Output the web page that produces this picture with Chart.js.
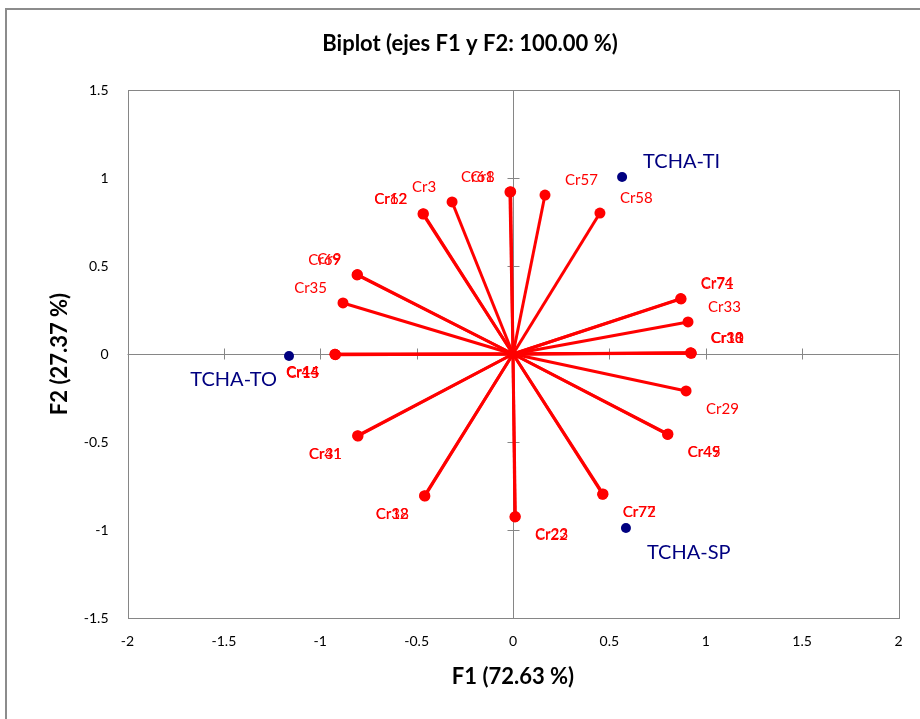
<!DOCTYPE html>
<html>
<head>
<meta charset="utf-8">
<title>Biplot</title>
<script src="https://cdn.jsdelivr.net/npm/chart.js@4.4.0/dist/chart.umd.min.js"></script>
<style>
  html, body { margin: 0; padding: 0; background: #fff; }
  #wrap { position: relative; width: 920px; height: 719px; overflow: hidden; }
  #frame { position: absolute; left: 5px; top: 8px; width: 1000px; height: 1000px;
           border: 2px solid #8c8c8c; box-sizing: border-box; }
  #biplot { position: absolute; left: 0; top: 0; }
</style>
</head>
<body>
<div id="wrap">
  <div id="frame"></div>
  <canvas id="biplot" width="920" height="719"></canvas>
</div>
<script>
// variable loadings (F1, F2)
const varNames = ['Cr61', 'Cr8', 'Cr57', 'Cr58', 'Cr3', 'Cr12', 'Cr62', 'Cr69', 'Cr9', 'Cr35',
                  'Cr14', 'Cr15', 'Cr44', 'Cr71', 'Cr74', 'Cr33', 'Cr10', 'Cr11', 'Cr38',
                  'Cr29', 'Cr45', 'Cr49', 'Cr72', 'Cr77', 'Cr22', 'Cr23', 'Cr18', 'Cr32',
                  'Cr31', 'Cr41'];
const varF1 = [-0.016, -0.012, 0.166, 0.451, -0.316, -0.467, -0.465, -0.809, -0.807, -0.882,
               -0.923, -0.921, -0.924, 0.872, 0.870, 0.908, 0.923, 0.925, 0.921,
               0.898, 0.804, 0.802, 0.467, 0.465, 0.010, 0.012, -0.457, -0.459,
               -0.804, -0.806];
const varF2 = [0.920, 0.922, 0.903, 0.801, 0.864, 0.795, 0.797, 0.449, 0.451, 0.290,
               -0.002, -0.004, -0.001, 0.313, 0.315, 0.182, 0.006, 0.004, 0.007,
               -0.210, -0.455, -0.457, -0.795, -0.797, -0.926, -0.924, -0.807, -0.805,
               -0.466, -0.464];

// observations
const obsNames = ['TCHA-TI', 'TCHA-SP', 'TCHA-TO'];
const obsF1 = [0.566, 0.586, -1.162];
const obsF2 = [1.006, -0.989, -0.011];

const xTicks = [-2, -1.5, -1, -0.5, 0, 0.5, 1, 1.5, 2];
const yTicks = [-1.5, -1, -0.5, 0, 0.5, 1, 1.5];

const RED = '#ff0000';
const NAVY = '#000080';
const AXIS_GREY = '#868686';
const FONT = 'Lato, Carlito, Calibri, sans-serif';

const varSets = varNames.map((name, i) => ({
  label: name,
  data: [{ x: 0, y: 0 }, { x: varF1[i], y: varF2[i] }],
  showLine: true,
  borderColor: RED,
  borderWidth: 3,
  pointRadius: [0, 5.5],
  pointBackgroundColor: RED,
  pointBorderWidth: 0,
  order: 2
}));

const obsSet = {
  label: 'obs',
  data: obsNames.map((n, i) => ({ x: obsF1[i], y: obsF2[i] })),
  showLine: false,
  pointRadius: 5,
  pointBackgroundColor: NAVY,
  pointBorderWidth: 0,
  order: 1
};

// plot frame plus axes through the origin with cross ticks
const zeroAxes = {
  id: 'zeroAxes',
  beforeDatasetsDraw(chart) {
    const { ctx, chartArea: a, scales: { x, y } } = chart;
    const x0 = Math.round(x.getPixelForValue(0)) + 0.5;
    const y0 = Math.round(y.getPixelForValue(0)) + 0.5;
    ctx.save();
    ctx.strokeStyle = AXIS_GREY;
    ctx.lineWidth = 1;
    ctx.strokeRect(Math.round(a.left) + 0.5, Math.round(a.top) + 0.5,
                   Math.round(a.width), Math.round(a.height));
    ctx.beginPath();
    ctx.moveTo(a.left, y0); ctx.lineTo(a.right, y0);
    ctx.moveTo(x0, a.top); ctx.lineTo(x0, a.bottom);
    xTicks.forEach(v => {
      const px = Math.round(x.getPixelForValue(v)) + 0.5;
      ctx.moveTo(px, y0 - 6); ctx.lineTo(px, y0 + 5);
    });
    yTicks.forEach(v => {
      const py = Math.round(y.getPixelForValue(v)) + 0.5;
      ctx.moveTo(x0 - 6, py); ctx.lineTo(x0 + 6, py);
    });
    ctx.stroke();
    ctx.restore();
  }
};

// names beside each variable tip and each observation
const pointNames = {
  id: 'pointNames',
  afterDatasetsDraw(chart) {
    const { ctx } = chart;
    ctx.save();
    ctx.textBaseline = 'middle';
    ctx.font = '15px ' + FONT;
    ctx.fillStyle = RED;
    varNames.forEach((name, i) => {
      const pt = chart.getDatasetMeta(i).data[1];
      const right = varF1[i] >= 0;
      ctx.textAlign = right ? 'left' : 'right';
      ctx.fillText(name, pt.x + (right ? 20 : -16), pt.y + (varF2[i] >= 0 ? -15 : 18));
    });
    ctx.font = '20px ' + FONT;
    ctx.fillStyle = NAVY;
    const meta = chart.getDatasetMeta(varNames.length);
    obsNames.forEach((name, i) => {
      const pt = meta.data[i];
      const right = obsF1[i] >= 0;
      ctx.textAlign = right ? 'left' : 'right';
      ctx.fillText(name, pt.x + (right ? 21 : -12), pt.y + (obsF2[i] >= 0 ? -15 : 24));
    });
    ctx.restore();
  }
};

new Chart(document.getElementById('biplot'), {
  type: 'scatter',
  data: { datasets: [...varSets, obsSet] },
  options: {
    responsive: false,
    animation: false,
    layout: { padding: { left: 41.5, top: 0, right: 21.5, bottom: 0 } },
    plugins: {
      legend: { display: false },
      tooltip: { enabled: false },
      title: {
        display: true,
        text: 'Biplot (ejes F1 y F2: 100.00 %)',
        color: '#000',
        font: { family: FONT, size: 22, weight: 'bold' },
        padding: { top: 30.8, bottom: 32.8 }
      }
    },
    scales: {
      x: {
        type: 'linear',
        min: -2,
        max: 2,
        afterBuildTicks: s => { s.ticks = xTicks.map(v => ({ value: v })); },
        afterFit: s => { s.height = 101; },
        grid: { display: false, drawTicks: false },
        border: { display: false },
        ticks: {
          color: '#000',
          padding: 15,
          font: { family: FONT, size: 14 },
          callback: v => String(v)
        },
        title: {
          display: true,
          text: 'F1 (72.63 %)',
          color: '#000',
          font: { family: FONT, size: 22, weight: 'bold' },
          padding: { top: 0, bottom: 28.8 }
        }
      },
      y: {
        type: 'linear',
        min: -1.5,
        max: 1.5,
        afterBuildTicks: s => { s.ticks = yTicks.map(v => ({ value: v })); },
        afterFit: s => { s.width = 86; },
        grid: { display: false, drawTicks: false },
        border: { display: false },
        ticks: {
          color: '#000',
          padding: 19,
          font: { family: FONT, size: 14 },
          callback: v => String(v)
        },
        title: {
          display: true,
          text: 'F2 (27.37 %)',
          color: '#000',
          font: { family: FONT, size: 22, weight: 'bold' },
          padding: { top: 5.3, bottom: 0 }
        }
      }
    }
  },
  plugins: [zeroAxes, pointNames]
});
</script>
</body>
</html>
